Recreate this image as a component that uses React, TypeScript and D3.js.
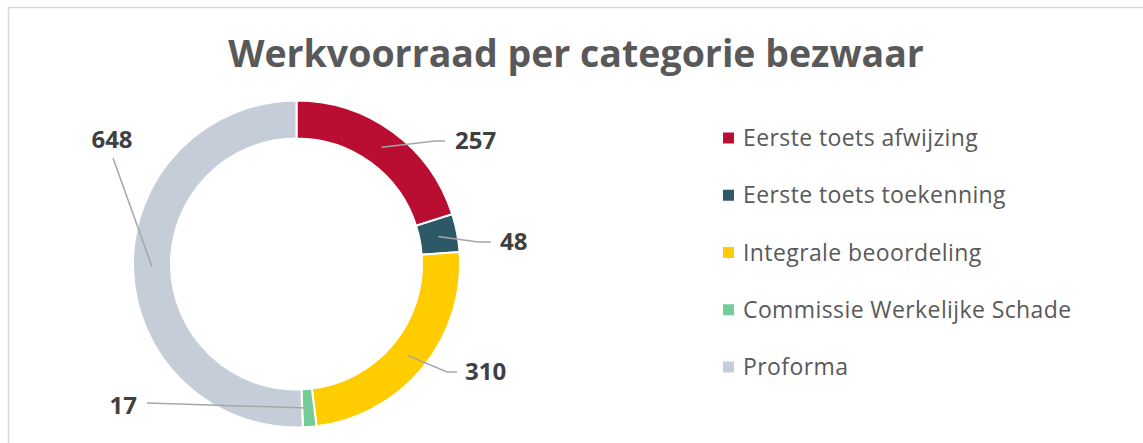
import React, { useEffect, useRef } from 'react';
import * as d3 from 'd3';

const categories = [
  'Eerste toets afwijzing',
  'Eerste toets toekenning',
  'Integrale beoordeling',
  'Commissie Werkelijke Schade',
  'Proforma',
];
const values = [257, 48, 310, 17, 648];
const colors = ['#B90D31', '#2D5967', '#FFCC00', '#74CC98', '#C5CED8'];
const title = 'Werkvoorraad per categorie bezwaar';

// leader line layout, relative to the donut centre
const labelLayout = [
  { pts: [[138.5, -123], [148.5, -123]], tx: 158.5, ty: -123, anchor: 'start' },
  { pts: [[181.5, -22], [194.5, -22]], tx: 203.5, ty: -22, anchor: 'start' },
  { pts: [[150.5, 108], [160.5, 108]], tx: 168.5, ty: 108, anchor: 'start' },
  { pts: [[-149.5, 139]], tx: -159.5, ty: 142, anchor: 'end' },
  { pts: [[-183.5, -106]], tx: -184.5, ty: -124, anchor: 'middle' },
];

const App = () => {
  const svgRef = useRef<SVGSVGElement>(null);

  useEffect(() => {
    const svg = d3.select(svgRef.current);
    svg.selectAll('*').remove();

    const width = 1143;
    const height = 443;
    const cx = 296.5;
    const cy = 264;
    const outerR = 163.5;
    const innerR = 125.5;
    const font = '"Open Sans", sans-serif';

    svg.append('rect')
      .attr('x', 8.5).attr('y', 7.5)
      .attr('width', width + 10).attr('height', height + 10)
      .attr('fill', 'white')
      .attr('stroke', '#d9d9d9').attr('stroke-width', 1.5);

    svg.append('text')
      .attr('x', 576).attr('y', 67)
      .attr('text-anchor', 'middle')
      .attr('font-family', font).attr('font-weight', 700)
      .attr('font-size', 37.5).attr('fill', '#595959')
      .text(title);

    const data = categories.map((c, i) => ({ name: c, value: values[i], color: colors[i] }));
    const pie = d3.pie<any>().sort(null).value(d => d.value);
    const arc = d3.arc<any>().innerRadius(innerR).outerRadius(outerR);
    const mid = d3.arc<any>().innerRadius((innerR + outerR) / 2).outerRadius((innerR + outerR) / 2);
    const arcs = pie(data);

    const g = svg.append('g').attr('transform', `translate(${cx},${cy})`);
    g.selectAll('path.slice')
      .data(arcs)
      .join('path')
      .attr('class', 'slice')
      .attr('d', arc)
      .attr('fill', d => d.data.color)
      .attr('stroke', 'white')
      .attr('stroke-width', 2);

    const line = d3.line();
    g.selectAll('path.leader')
      .data(arcs)
      .join('path')
      .attr('class', 'leader')
      .attr('d', (d, i) => line([mid.centroid(d), ...labelLayout[i].pts] as any))
      .attr('fill', 'none')
      .attr('stroke', '#a6a6a6')
      .attr('stroke-width', 1.5);

    g.selectAll('text.lbl')
      .data(arcs)
      .join('text')
      .attr('class', 'lbl')
      .attr('x', (d, i) => labelLayout[i].tx)
      .attr('y', (d, i) => labelLayout[i].ty)
      .attr('dy', '0.35em')
      .attr('text-anchor', (d, i) => labelLayout[i].anchor)
      .attr('font-family', font).attr('font-weight', 700)
      .attr('font-size', 24).attr('fill', '#404040')
      .text(d => d.data.value);

    const y = d3.scalePoint().domain(categories).range([138, 367]);
    const legend = svg.append('g');
    const items = legend.selectAll('g').data(data).join('g')
      .attr('transform', d => `translate(723,${y(d.name)})`);
    items.append('rect')
      .attr('x', 0).attr('y', -5.5)
      .attr('width', 11).attr('height', 11)
      .attr('fill', d => d.color);
    items.append('text')
      .attr('x', 20).attr('y', 0).attr('dy', '0.35em')
      .attr('font-family', font).attr('font-size', 23)
      .attr('letter-spacing', 0.4)
      .attr('fill', '#595959')
      .text(d => d.name);
  }, []);

  return (
    <div style={{ position: 'absolute', left: 0, top: 0 }}>
      <svg ref={svgRef} width={1143} height={443} style={{ display: 'block' }}></svg>
    </div>
  );
};

export default App;
